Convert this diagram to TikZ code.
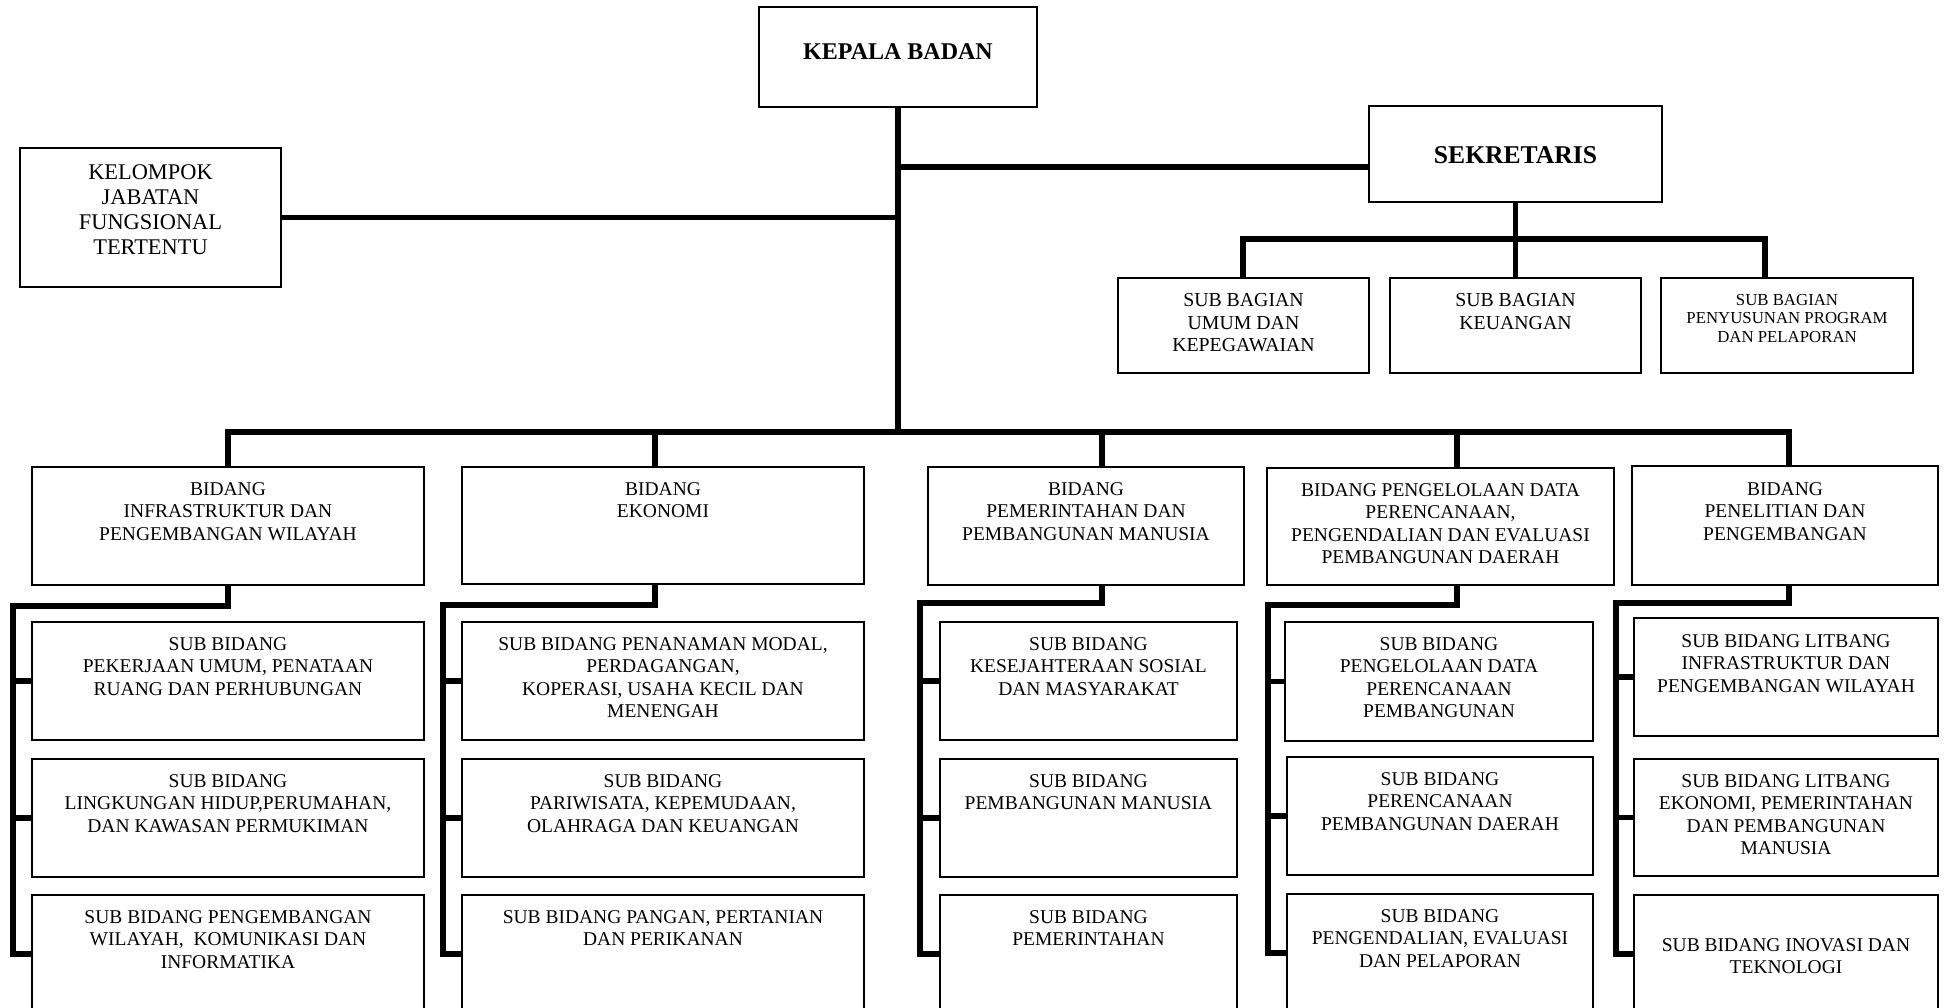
\documentclass[tikz,border=0pt]{standalone}
\usepackage{fontspec}
\setmainfont{Liberation Serif}
\newcommand\obox[8]{%
  \node[box, minimum width={(#4-#2)*0.5pt}, minimum height={(#5-#3)*0.5pt}]
    (#1) at ({(#2+#4)/2},{(#3+#5)/2}) {};
  \node[txt,#7,anchor=north] (#1t) at ([yshift={-(#6)*0.5pt}]#1.north) {#8};}
\begin{document}
\begin{tikzpicture}[x=0.5pt,y=-0.5pt,
  box/.style={draw, line width=0.7pt, inner sep=0pt, outer sep=0pt},
  txt/.style={inner sep=0pt, align=center},
  fn/.style={font=\fontsize{9.75}{11.25}\selectfont},
  fsb/.style={font=\fontsize{9.9}{11.3}\selectfont},
  fsm/.style={font=\fontsize{8.4}{9.15}\selectfont},
  fkel/.style={font=\fontsize{11.2}{12.5}\selectfont},
  fbold/.style={font=\fontsize{12}{14}\selectfont\bfseries},
  fbold2/.style={font=\fontsize{12.8}{14}\selectfont\bfseries},
  conn/.style={line width=2.8pt, line join=miter}]
\useasboundingbox (0,0) rectangle (1948,1007);
\clip (0,0) rectangle (1948,1007);

% top level
\obox{kep}{759}{7}{1037}{107}{36}{fbold}{KEPALA BADAN}
\obox{kel}{20}{148}{281}{287}{16}{fkel}{KELOMPOK\\JABATAN\\FUNGSIONAL\\TERTENTU}
\obox{sek}{1369}{106}{1662}{202}{40}{fbold2}{SEKRETARIS}
\obox{sb1}{1118}{278}{1369}{373}{15}{fsb}{SUB BAGIAN\\UMUM DAN\\KEPEGAWAIAN}
\obox{sb2}{1390}{278}{1641}{373}{15}{fsb}{SUB BAGIAN\\KEUANGAN}
\obox{sb3}{1661}{278}{1913}{373}{16}{fsm}{SUB BAGIAN\\PENYUSUNAN PROGRAM\\DAN PELAPORAN}

% bidang
\obox{b1}{32}{467}{424}{585}{15}{fn}{BIDANG\\INFRASTRUKTUR DAN\\PENGEMBANGAN WILAYAH}
\obox{b2}{462}{467}{864}{584}{15}{fn}{BIDANG\\EKONOMI}
\obox{b3}{928}{467}{1244}{585}{15}{fn}{BIDANG\\PEMERINTAHAN DAN\\PEMBANGUNAN MANUSIA}
\obox{b4}{1267}{468}{1614}{585}{15}{fn}{BIDANG PENGELOLAAN DATA\\PERENCANAAN,\\PENGENDALIAN DAN EVALUASI\\PEMBANGUNAN DAERAH}
\obox{b5}{1632}{466}{1938}{585}{16}{fn}{BIDANG\\PENELITIAN DAN\\PENGEMBANGAN}

% sub bidang column 1
\obox{s11}{32}{622}{424}{740}{15}{fn}{SUB BIDANG\\PEKERJAAN UMUM, PENATAAN\\RUANG DAN PERHUBUNGAN}
\obox{s12}{32}{759}{424}{877}{15}{fn}{SUB BIDANG\\LINGKUNGAN HIDUP,PERUMAHAN,\\DAN KAWASAN PERMUKIMAN}
\obox{s13}{32}{895}{424}{1013}{15}{fn}{SUB BIDANG PENGEMBANGAN\\WILAYAH,\ \ KOMUNIKASI DAN\\INFORMATIKA}
% column 2
\obox{s21}{462}{622}{864}{740}{15}{fn}{SUB BIDANG PENANAMAN MODAL,\\PERDAGANGAN,\\KOPERASI, USAHA KECIL DAN\\MENENGAH}
\obox{s22}{462}{759}{864}{877}{15}{fn}{SUB BIDANG\\PARIWISATA, KEPEMUDAAN,\\OLAHRAGA DAN KEUANGAN}
\obox{s23}{462}{895}{864}{1013}{15}{fn}{SUB BIDANG PANGAN, PERTANIAN\\DAN PERIKANAN}
% column 3
\obox{s31}{940}{622}{1237}{740}{15}{fn}{SUB BIDANG\\KESEJAHTERAAN SOSIAL\\DAN MASYARAKAT}
\obox{s32}{940}{759}{1237}{877}{15}{fn}{SUB BIDANG\\PEMBANGUNAN MANUSIA}
\obox{s33}{940}{895}{1237}{1013}{15}{fn}{SUB BIDANG\\PEMERINTAHAN}
% column 4
\obox{s41}{1285}{622}{1593}{741}{15}{fn}{SUB BIDANG\\PENGELOLAAN DATA\\PERENCANAAN\\PEMBANGUNAN}
\obox{s42}{1287}{757}{1593}{875}{15}{fn}{SUB BIDANG\\PERENCANAAN\\PEMBANGUNAN DAERAH}
\obox{s43}{1287}{894}{1593}{1012}{15}{fn}{SUB BIDANG\\PENGENDALIAN, EVALUASI\\DAN PELAPORAN}
% column 5
\obox{s51}{1634}{618}{1938}{736}{16}{fn}{SUB BIDANG LITBANG\\INFRASTRUKTUR DAN\\PENGEMBANGAN WILAYAH}
\obox{s52}{1634}{759}{1938}{876}{15}{fn}{SUB BIDANG LITBANG\\EKONOMI, PEMERINTAHAN\\DAN PEMBANGUNAN\\MANUSIA}
\obox{s53}{1634}{895}{1938}{1013}{43}{fn}{SUB BIDANG INOVASI DAN\\TEKNOLOGI}

% coordinates for connectors
\coordinate (d1) at (228,432);
\coordinate (d2) at (655,432);
\coordinate (d3) at (1102,432);
\coordinate (d4) at (1457,432);
\coordinate (d5) at (1789,432);
\coordinate (sy) at (0,167);
\coordinate (e1) at (1243,239);
\coordinate (e3) at (1765,239);
\coordinate (c1) at (13,606);
\coordinate (c2) at (443,605);
\coordinate (c3) at (920,603);
\coordinate (c4) at (1268,605);
\coordinate (c5) at (1616,603);

% trunk and branches
\draw[conn] (kep.south) -- ([yshift=-1.5pt]kep.south |- d1);
\draw[conn] (kel.east) -- (kel.east -| kep.south);
\draw[conn] (kep.south |- sy) -- (sek.west |- sy);
\draw[conn] (b1.north -| d1) -- (d1) -- (d5) -- (b5.north -| d5);
\foreach \i in {2,3,4} {\draw[conn] (d\i) -- (b\i.north -| d\i);}

% sekretaris to sub bagian
\draw[conn] (sek.south) -- (sb2.north);
\draw[conn] (sb1.north -| e1) -- (e1) -- (e3) -- (sb3.north -| e3);

% bidang to sub bidang
\foreach \i in {1,...,5} {
  \draw[conn] (b\i.south -| d\i) |- (c\i) |- (s\i3.west);
  \draw[conn] (c\i |- s\i1.west) -- (s\i1.west);
  \draw[conn] (c\i |- s\i2.west) -- (s\i2.west);
}
\end{tikzpicture}
\end{document}
